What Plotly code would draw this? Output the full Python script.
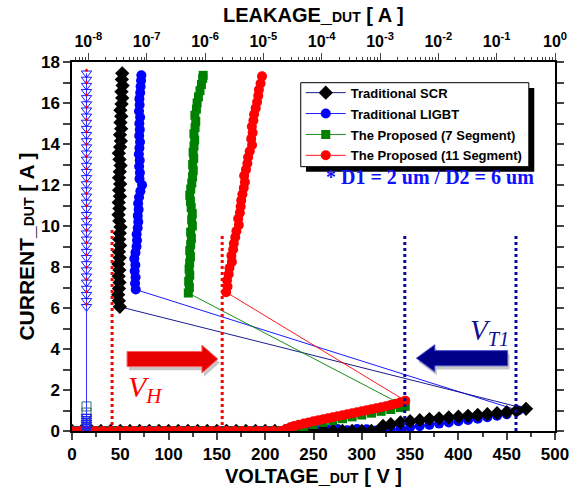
import plotly.graph_objects as go

# ---------------- data ----------------
# Traditional SCR (black diamonds)
scr_v = [0, 10, 20, 30, 40, 50, 60, 70, 80, 90, 100, 110, 120, 130, 140, 150, 160, 170, 180, 190, 200,
         210, 220, 230, 240, 250, 260, 270, 280, 290, 300, 310, 318,
         322, 330, 340, 350, 360, 370, 380, 390, 400, 410, 420, 430, 440, 450, 460, 470,
         49.5, 48.5, 47.8, 48.6, 49.2, 48.3, 49.0, 48.0, 49.4, 48.6, 49.8, 48.9, 49.5, 50.2, 49.0, 48.2,
         49.1, 48.4, 49.6, 48.8, 49.9, 48.7, 49.5, 50.3, 49.2, 48.5, 49.8, 50.6, 49.7, 50.9, 50.2, 51.0,
         50.1, 51.3, 52.0, 51.2, 52.4, 51.6, 52.0]
scr_i = [0, 0, 0, 0, 0, 0, 0, 0, 0, 0, 0, 0, 0, 0, 0, 0, 0, 0, 0, 0, 0,
         0, 0, 0, 0, 0, 0, 0, 0, 0, 0, 0, 0,
         0.25, 0.33, 0.42, 0.48, 0.53, 0.58, 0.62, 0.66, 0.70, 0.74, 0.78, 0.82, 0.87, 0.92, 0.98, 1.08,
         6.06, 6.35, 6.65, 6.95, 7.25, 7.55, 7.85, 8.15, 8.45, 8.75, 9.05, 9.35, 9.65, 9.95, 10.25, 10.55,
         10.85, 11.15, 11.45, 11.75, 12.05, 12.35, 12.65, 12.95, 13.25, 13.55, 13.85, 14.15, 14.45, 14.75,
         15.05, 15.35, 15.65, 15.95, 16.25, 16.55, 16.85, 17.15, 17.45]

# Traditional LIGBT (blue circles)
ligbt_v = [5, 15, 25, 35, 45, 55, 65, 75, 85, 95, 105, 115, 125, 135, 145, 155, 165, 175, 185, 195, 205,
           215, 225, 235, 245, 255, 265, 275, 285, 295, 305, 315,
           320, 330, 340, 350, 360, 370, 380, 390, 400, 410, 420, 430, 440, 450, 462,
           66.0, 65.3, 65.8, 64.9, 65.6, 64.5, 65.7, 66.8, 67.3, 66.9, 68.0, 68.6, 68.1, 69.0, 68.5, 69.4,
           70.8, 72.5, 69.9, 70.3, 69.5, 70.1, 69.2, 69.8, 70.4, 69.6, 70.2, 69.7, 70.5, 69.4, 70.0, 69.8,
           70.6, 71.0, 71.5, 71.8]
ligbt_i = [0, 0, 0, 0, 0, 0, 0, 0, 0, 0, 0, 0, 0, 0, 0, 0, 0, 0, 0, 0, 0,
           0, 0, 0.05, 0.08, 0.1, 0.06, 0.1, 0.04, 0.1, 0.08, 0.03,
           0.0, 0.06, 0.12, 0.18, 0.24, 0.30, 0.36, 0.42, 0.48, 0.54, 0.60, 0.67, 0.74, 0.82, 1.0,
           6.9, 7.2, 7.5, 7.8, 8.1, 8.4, 8.7, 9.0, 9.3, 9.6, 9.9, 10.2, 10.5, 10.8, 11.1, 11.4,
           11.7, 12.0, 12.3, 12.6, 12.9, 13.2, 13.5, 13.8, 14.1, 14.4, 14.7, 15.0, 15.3, 15.6, 15.9, 16.2,
           16.5, 16.8, 17.1, 17.35]

# The Proposed (7 Segment) (green squares)
seg7_v = [2, 12, 22, 32, 42, 52, 62, 72, 82, 92, 102, 112, 122, 132, 142, 152, 162, 172, 182, 192, 202, 212, 220,
          225, 230, 240, 250, 260, 270, 280, 290, 300, 310, 320, 330, 340, 345,
          120.4, 121.5, 120.8, 121.9, 121.2, 121.8, 122.6, 121.9, 122.9, 123.6, 122.8, 124.6, 123.9, 124.5,
          123.4, 122.6, 121.9, 122.9, 124.0, 124.8, 125.5, 124.9, 126.0, 125.4, 126.3, 127.0, 126.2, 127.4,
          128.1, 127.2, 128.8, 129.5, 130.9, 132.5, 134.0, 135.3, 135.8]
seg7_i = [0, 0, 0, 0, 0, 0, 0, 0, 0, 0, 0, 0, 0, 0, 0, 0, 0, 0, 0, 0, 0, 0, 0,
          0.05, 0.12, 0.22, 0.32, 0.42, 0.51, 0.60, 0.69, 0.78, 0.87, 0.96, 1.05, 1.14, 1.2,
          6.73, 7.0, 7.3, 7.6, 7.9, 8.2, 8.5, 8.8, 9.1, 9.4, 9.7, 10.0, 10.3, 10.6, 10.9, 11.2, 11.5, 11.8,
          12.1, 12.4, 12.7, 13.0, 13.3, 13.6, 13.9, 14.2, 14.5, 14.8, 15.1, 15.4, 15.7, 16.0, 16.3, 16.6,
          16.9, 17.2, 17.35]

# The Proposed (11 Segment) (red circles)
seg11_v = [0, 8, 16, 24, 32, 40, 48, 56, 64, 72, 80, 88, 96, 104, 112, 120, 128, 136, 144, 152, 160, 168,
           176, 184, 192, 200, 208, 216, 222,
           226, 230, 235, 240, 245, 250, 255, 260, 265, 270, 275, 280, 285, 290, 295, 300, 305, 310, 315,
           320, 325, 330, 335, 340, 345,
           159.6, 161.0, 160.5, 162.2, 163.0, 165.5, 165.0, 166.8, 167.5, 169.0, 170.2, 172.7, 172.0, 173.8,
           174.6, 175.2, 176.4, 177.8, 179.0, 178.2, 180.1, 181.5, 182.3, 184.0, 186.4, 185.5, 187.0, 186.2,
           187.8, 188.5, 190.2, 191.6, 192.8, 193.5, 195.2, 196.7]
seg11_i = [0, 0, 0, 0, 0, 0, 0, 0, 0, 0, 0, 0, 0, 0, 0, 0, 0, 0, 0, 0, 0, 0,
           0, 0, 0, 0, 0, 0, 0.1,
           0.18, 0.25, 0.31, 0.36, 0.42, 0.47, 0.52, 0.57, 0.62, 0.67, 0.72, 0.77, 0.82, 0.87, 0.91, 0.96,
           1.01, 1.06, 1.11, 1.16, 1.21, 1.27, 1.33, 1.40, 1.48,
           6.77, 7.05, 7.35, 7.65, 7.95, 8.25, 8.55, 8.85, 9.15, 9.45, 9.75, 10.05, 10.35, 10.65, 10.95,
           11.25, 11.55, 11.85, 12.15, 12.45, 12.75, 13.05, 13.35, 13.65, 13.95, 14.25, 14.55, 14.85,
           15.15, 15.45, 15.75, 16.05, 16.35, 16.65, 16.95, 17.3]

# Leakage (top axis) data
leak_col_i = [0.0, 0.1, 0.2, 0.3, 0.4, 0.5, 0.6, 0.7,
              6.06, 6.35, 6.65, 6.95, 7.25, 7.55, 7.85, 8.15, 8.45, 8.75, 9.05, 9.35, 9.65, 9.95, 10.25,
              10.55, 10.85, 11.15, 11.45, 11.75, 12.05, 12.35, 12.65, 12.95, 13.25, 13.55, 13.85, 14.15,
              14.45, 14.75, 15.05, 15.35, 15.65, 15.95, 16.25, 16.55, 16.85, 17.15, 17.45]
leak_col_a = [9.3e-9, 9.3e-9, 9.3e-9, 9.3e-9, 9.3e-9, 9.3e-9, 9.3e-9, 9.3e-9,
              9.3e-9, 9.3e-9, 9.3e-9, 9.3e-9, 9.3e-9, 9.3e-9, 9.3e-9, 9.3e-9, 9.3e-9, 9.3e-9, 9.3e-9,
              9.3e-9, 9.3e-9, 9.3e-9, 9.3e-9, 9.3e-9, 9.3e-9, 9.3e-9, 9.3e-9, 9.3e-9, 9.3e-9, 9.3e-9,
              9.3e-9, 9.3e-9, 9.3e-9, 9.3e-9, 9.3e-9, 9.3e-9, 9.3e-9, 9.3e-9, 9.3e-9, 9.3e-9, 9.3e-9,
              9.3e-9, 9.3e-9, 9.3e-9, 9.3e-9, 9.3e-9, 9.3e-9]
leak_red_i = [6.2, 6.8, 7.4, 8.0, 8.6, 9.2, 9.8, 10.4, 11.0, 11.6, 12.2, 12.8, 13.4, 14.0, 14.6, 15.2,
              15.8, 16.4, 17.0, 17.6]
leak_red_a = [9.3e-9, 9.3e-9, 9.3e-9, 9.3e-9, 9.3e-9, 9.3e-9, 9.3e-9, 9.3e-9, 9.3e-9, 9.3e-9,
              9.3e-9, 9.3e-9, 9.3e-9, 9.3e-9, 9.3e-9, 9.3e-9, 9.3e-9, 9.3e-9, 9.3e-9, 9.3e-9]
leak_sq_i = [0.3, 0.6, 0.9, 1.2]
leak_sq_a = [9.3e-9, 9.3e-9, 9.3e-9, 9.3e-9]

x_ticks = [0, 50, 100, 150, 200, 250, 300, 350, 400, 450, 500]
y_ticks = [0, 2, 4, 6, 8, 10, 12, 14, 16, 18]
top_vals = [1e-8, 1e-7, 1e-6, 1e-5, 1e-4, 1e-3, 1e-2, 1e-1, 1]
top_text = ["10<sup>-8</sup>", "10<sup>-7</sup>", "10<sup>-6</sup>", "10<sup>-5</sup>", "10<sup>-4</sup>",
            "10<sup>-3</sup>", "10<sup>-2</sup>", "10<sup>-1</sup>", "10<sup>0</sup>"]
top_minor = [6e-9, 7e-9, 8e-9, 9e-9]
for d in [1e-8, 1e-7, 1e-6, 1e-5, 1e-4, 1e-3, 1e-2, 1e-1]:
    top_minor += [m * d for m in (2, 3, 4, 5, 6, 7, 8, 9)]

SANS = "Liberation Sans, Arial, sans-serif"
SERIF = "Liberation Serif, Times New Roman, serif"

fig = go.Figure()

# leakage traces (top axis)
fig.add_trace(go.Scatter(x=leak_sq_a, y=leak_sq_i, xaxis="x2", yaxis="y", mode="markers",
                         marker=dict(symbol="square-open", size=9, color="#2f6f6f", line=dict(width=1)),
                         showlegend=False))
fig.add_trace(go.Scatter(x=leak_col_a, y=leak_col_i, xaxis="x2", yaxis="y", mode="lines+markers",
                         line=dict(color="#3333ff", width=1),
                         marker=dict(symbol="triangle-down-open", size=9, color="#1a1aff", line=dict(width=1)),
                         showlegend=False))
fig.add_trace(go.Scatter(x=leak_red_a, y=leak_red_i, xaxis="x2", yaxis="y", mode="markers",
                         marker=dict(symbol="circle", size=3, color="#ff0000"),
                         showlegend=False))

# I-V traces
fig.add_trace(go.Scatter(x=ligbt_v, y=ligbt_i, mode="lines+markers", name="Traditional LIGBT",
                         legendrank=2, legendgroup="b",
                         line=dict(color="#0000ff", width=0.9),
                         marker=dict(symbol="circle", size=10, color="#0000ff")))
fig.add_trace(go.Scatter(x=scr_v, y=scr_i, mode="lines+markers", name="Traditional SCR",
                         legendrank=1, legendgroup="a",
                         line=dict(color="#000080", width=0.9),
                         marker=dict(symbol="diamond", size=11, color="#000000")))
fig.add_trace(go.Scatter(x=seg7_v, y=seg7_i, mode="lines+markers", name="The Proposed (7 Segment)",
                         legendrank=3, legendgroup="c",
                         line=dict(color="#008000", width=0.9),
                         marker=dict(symbol="square", size=9, color="#008000")))
fig.add_trace(go.Scatter(x=seg11_v, y=seg11_i, mode="lines+markers", name="The Proposed (11 Segment)",
                         legendrank=4, legendgroup="d",
                         line=dict(color="#ff0000", width=0.9),
                         marker=dict(symbol="circle", size=10, color="#ff0000")))

shapes = []
# legend shadow + box
shapes.append(dict(type="rect", xref="paper", yref="paper", x0=0.4845, x1=0.9571, y0=0.7027, y1=0.9295,
                   fillcolor="#000000", line=dict(width=0)))
shapes.append(dict(type="rect", xref="paper", yref="paper", x0=0.4736, x1=0.9458, y0=0.7163, y1=0.9439,
                   fillcolor="#ffffff", line=dict(color="#000000", width=1)))
# dotted guide lines
for xv, top, col in [(41.5, 9.8, "#ff0000"), (155.5, 9.65, "#ff0000"),
                     (344.5, 9.64, "#0a0aa0"), (459.6, 9.64, "#0a0aa0")]:
    shapes.append(dict(type="line", xref="x", yref="y", x0=xv, x1=xv, y0=0, y1=top,
                       line=dict(color=col, width=3, dash="dot")))
# arrows (shadow + body)
red_arrow = "M 57,3.14 L 134.5,3.14 L 134.5,2.83 L 151,3.51 L 134.5,4.19 L 134.5,3.88 L 57,3.88 Z"
red_shadow = "M 59,2.96 L 136.5,2.96 L 136.5,2.65 L 153,3.33 L 136.5,4.01 L 136.5,3.70 L 59,3.70 Z"
blue_arrow = "M 451,3.18 L 375.6,3.18 L 375.6,2.89 L 356.5,3.55 L 375.6,4.21 L 375.6,3.92 L 451,3.92 Z"
blue_shadow = "M 453,3.0 L 377.6,3.0 L 377.6,2.71 L 358.5,3.37 L 377.6,4.03 L 377.6,3.74 L 453,3.74 Z"
shapes.append(dict(type="path", xref="x", yref="y", path=red_shadow, fillcolor="rgba(0,0,0,0.22)",
                   line=dict(width=0)))
shapes.append(dict(type="path", xref="x", yref="y", path=red_arrow, fillcolor="#e80000",
                   line=dict(color="#ff6060", width=1)))
shapes.append(dict(type="path", xref="x", yref="y", path=blue_shadow, fillcolor="rgba(0,0,0,0.22)",
                   line=dict(width=0)))
shapes.append(dict(type="path", xref="x", yref="y", path=blue_arrow, fillcolor="#000088",
                   line=dict(color="#4a4ad0", width=1)))

annotations = [
    dict(xref="paper", yref="paper", x=0.5, y=-0.121, xanchor="center", yanchor="middle", showarrow=False,
         text="<b>VOLTAGE_<span style='font-size:14px'>DUT</span> [ V ]</b>",
         font=dict(family=SANS, size=20, color="black")),
    dict(xref="paper", yref="paper", x=0.5, y=1.127, xanchor="center", yanchor="middle", showarrow=False,
         text="<b>LEAKAGE_<span style='font-size:14px'>DUT</span> [ A ]</b>",
         font=dict(family=SANS, size=20, color="black")),
    dict(xref="paper", yref="paper", x=-0.095, y=0.5, xanchor="center", yanchor="middle", showarrow=False,
         textangle=-90, text="<b>CURRENT_<span style='font-size:14px'>DUT</span> [ A ]</b>",
         font=dict(family=SANS, size=21, color="black")),
    dict(xref="x", yref="y", x=76, y=2.05, xanchor="center", yanchor="middle", showarrow=False,
         text="<i>V<sub>H</sub></i>", font=dict(family=SERIF, size=30, color="#ff0000")),
    dict(xref="x", yref="y", x=432, y=4.84, xanchor="center", yanchor="middle", showarrow=False,
         text="<i>V<sub>T1</sub></i>", font=dict(family=SERIF, size=29, color="#101090")),
    dict(xref="x", yref="y", x=370.6, y=12.41, xanchor="center", yanchor="middle", showarrow=False,
         text="<b>* D1 = 2 um / D2 = 6 um</b>", font=dict(family=SERIF, size=20, color="#1010ff")),
]

fig.update_layout(
    width=581, height=489,
    margin=dict(l=72, r=24, t=62, b=58),
    paper_bgcolor="white", plot_bgcolor="white",
    shapes=shapes, annotations=annotations,
    legend=dict(x=0.4736, y=0.9575, xanchor="left", yanchor="top", bgcolor="rgba(0,0,0,0)",
                borderwidth=0, itemwidth=40, tracegroupgap=1,
                font=dict(family=SANS, size=13, color="black", weight="bold")),
    xaxis=dict(range=[0, 500], tickvals=x_ticks, ticks="outside", ticklen=7, tickwidth=1.5,
               showgrid=False, zeroline=False, showline=True, linecolor="black", linewidth=1.5,
               mirror=True, tickfont=dict(family=SANS, size=17, color="black", weight="bold"),
               minor=dict(dtick=25, ticks="outside", ticklen=4, tickwidth=1.5, showgrid=False)),
    xaxis2=dict(type="log", range=[-8.28, 0], overlaying="x", side="top", anchor="y",
                tickvals=top_vals, ticktext=top_text, ticks="outside", ticklen=7, tickwidth=1.2,
                showgrid=False, zeroline=False, showline=True, linecolor="black", linewidth=1.5,
                tickfont=dict(family=SANS, size=16, color="black", weight="bold"),
                minor=dict(tickmode="array", tickvals=top_minor, ticks="outside", ticklen=3.5,
                           tickwidth=1, showgrid=False)),
    yaxis=dict(range=[0, 18], tickvals=y_ticks, ticks="outside", ticklen=7, tickwidth=1.5,
               showgrid=False, zeroline=False, showline=True, linecolor="black", linewidth=1.5,
               mirror="allticks", tickfont=dict(family=SANS, size=17, color="black", weight="bold"),
               minor=dict(dtick=1, ticks="outside", ticklen=4, tickwidth=1.5, showgrid=False)),
)

fig.write_html("out.html")
